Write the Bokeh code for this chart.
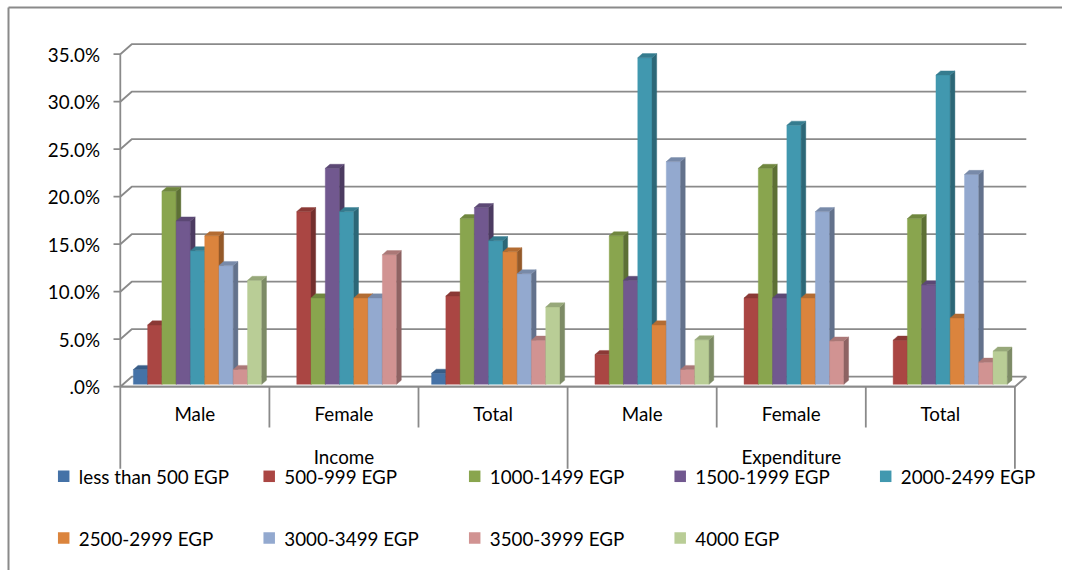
from bokeh.plotting import figure
from bokeh.models import ColumnDataSource, Range1d
from bokeh.embed import file_html
from bokeh.resources import INLINE
from bokeh.core.properties import value

# ---------------- data ----------------
groups = ["Income", "Expenditure"]
categories = ["Male", "Female", "Total", "Male", "Female", "Total"]
series = ["less than 500 EGP", "500-999 EGP", "1000-1499 EGP", "1500-1999 EGP",
          "2000-2499 EGP", "2500-2999 EGP", "3000-3499 EGP", "3500-3999 EGP", "4000 EGP"]
colors = ["#4572A7", "#AA4643", "#89A54E", "#71588F", "#4198AF",
          "#DB843D", "#93A9CF", "#D19392", "#B9CD96"]

# percent values for Income (Male, Female, Total) then Expenditure (Male, Female, Total)
less_500 = [1.56, 0.0, 1.16, 0.0, 0.0, 0.0]
egp_500_999 = [6.25, 18.18, 9.30, 3.13, 9.09, 4.65]
egp_1000_1499 = [20.31, 9.09, 17.44, 15.63, 22.73, 17.44]
egp_1500_1999 = [17.19, 22.73, 18.60, 10.94, 9.09, 10.47]
egp_2000_2499 = [14.06, 18.18, 15.12, 34.38, 27.27, 32.56]
egp_2500_2999 = [15.63, 9.09, 13.95, 6.25, 9.09, 6.98]
egp_3000_3499 = [12.50, 9.09, 11.63, 23.44, 18.18, 22.09]
egp_3500_3999 = [1.56, 13.64, 4.65, 1.56, 4.55, 2.33]
egp_4000 = [10.94, 0.0, 8.14, 4.69, 0.0, 3.49]
values = [less_500, egp_500_999, egp_1000_1499, egp_1500_1999, egp_2000_2499,
          egp_2500_2999, egp_3000_3499, egp_3500_3999, egp_4000]

y_ticks = [0, 5, 10, 15, 20, 25, 30, 35]
y_tick_labels = [".0%", "5.0%", "10.0%", "15.0%", "20.0%", "25.0%", "30.0%", "35.0%"]

# ---------------- layout ----------------
W, H = 1062, 570
X0_PX, UNIT_PX = 119.8, 149.1      # x of category origin, px per category
Y0_PX, PCT_PX = 386.2, 9.5         # y of 0 %, px per percent
FONT = value("Lato")
FS = "18.8px"
GRID = "#8a8a8a"


def cx(px):
    return (px - X0_PX) / UNIT_PX


def cy(py):
    return (Y0_PX - py) / PCT_PX


DX, DY = 11.4 / UNIT_PX, 10.0 / PCT_PX     # full depth of the 3D box
BW = 14.27 / UNIT_PX                        # bar width
F0, F1 = 0.24, 0.65                         # bar depth span
OFF = (1 - len(series) * BW) / 2
NCAT = len(categories)


def shade(hexcol, f):
    r, g, b = int(hexcol[1:3], 16), int(hexcol[3:5], 16), int(hexcol[5:7], 16)
    return "#%02x%02x%02x" % (int(r * f), int(g * f), int(b * f))


p = figure(width=W, height=H, x_range=Range1d(cx(0), cx(W)), y_range=Range1d(cy(H), cy(0)),
           output_backend="svg", toolbar_location=None, min_border=0,
           x_axis_location=None, y_axis_location=None)
p.grid.visible = False
p.outline_line_color = None
p.background_fill_color = "white"
p.border_fill_color = "white"

# chart border (top and left edges visible)
p.segment(x0=[cx(8), cx(8)], y0=[cy(7), cy(7)], x1=[cx(W), cx(8)], y1=[cy(7), cy(H)],
          line_color=GRID, line_width=2)

# floor
p.patch(x=[0, NCAT, NCAT + DX, DX], y=[0, 0, DY, DY], fill_color="white",
        line_color=GRID, line_width=1.8)

# back wall gridlines with left-wall diagonals
gx, gy = [], []
for t in y_ticks[1:]:
    gx.append([0, DX, NCAT + DX])
    gy.append([t, t + DY, t + DY])
p.multi_line(xs=gx, ys=gy, line_color=GRID, line_width=1.8)

# value axis
p.segment(x0=[0], y0=[0], x1=[0], y1=[y_ticks[-1]], line_color=GRID, line_width=1.8)
p.segment(x0=[cx(113)] * len(y_ticks), y0=y_ticks, x1=[0] * len(y_ticks), y1=y_ticks,
          line_color=GRID, line_width=1.8)
p.text(x=[cx(99.5)] * len(y_ticks), y=y_ticks, text=y_tick_labels, text_font=FONT,
       text_font_size=FS, text_align="right", text_baseline="middle", text_color="black")

# bars (front, side, top faces), drawn left to right
xs, ys, fills = [], [], []
for g in range(NCAT):
    for s in range(len(series)):
        v = values[s][g]
        if v <= 0:
            continue
        x0 = g + OFF + s * BW + F0 * DX
        x1 = x0 + BW
        yb, yt = F0 * DY, v + F0 * DY
        ddx, ddy = (F1 - F0) * DX, (F1 - F0) * DY
        xs.append([x0, x1, x1, x0]); ys.append([yb, yb, yt, yt]); fills.append(colors[s])
        xs.append([x1, x1 + ddx, x1 + ddx, x1]); ys.append([yb, yb + ddy, yt + ddy, yt])
        fills.append(shade(colors[s], 0.68))
        xs.append([x0, x1, x1 + ddx, x0 + ddx]); ys.append([yt, yt, yt + ddy, yt + ddy])
        fills.append(shade(colors[s], 0.82))
bars = ColumnDataSource(dict(xs=xs, ys=ys, fill=fills))
p.patches(xs="xs", ys="ys", fill_color="fill", line_color="fill", line_width=0.4, source=bars)

# category axis
cat_ticks = list(range(NCAT + 1))
tick_ends = [cy(468.3) if (i % 3 == 0) else cy(427) for i in cat_ticks]
p.segment(x0=cat_ticks, y0=[0] * len(cat_ticks), x1=cat_ticks, y1=tick_ends,
          line_color=GRID, line_width=1.8)
p.segment(x0=[0], y0=[0], x1=[NCAT], y1=[0], line_color=GRID, line_width=1.8)
p.text(x=[i + 0.5 for i in range(NCAT)], y=[cy(413.3)] * NCAT, text=categories,
       text_font=FONT, text_font_size=FS, text_align="center", text_baseline="middle",
       text_color="black")
p.text(x=[1.5, 4.5], y=[cy(455.5)] * 2, text=groups, text_font=FONT, text_font_size=FS,
       text_align="center", text_baseline="middle", text_color="black")

# legend
NCOL = 5
lx = [cx(63.2 + (i % NCOL) * 205.5) for i in range(len(series))]
ly = [cy(475.8 + (i // NCOL) * 61.7) for i in range(len(series))]
p.scatter(x=lx, y=ly, marker="square", size=11.5, fill_color=colors, line_color=None)
tx = [cx(78.3 + (i % NCOL) * 205.5) for i in range(len(series))]
p.text(x=tx, y=ly, text=series, text_font=FONT, text_font_size=FS, text_align="left",
       text_baseline="middle", text_color="black")

open("out.html", "w").write(file_html(p, INLINE))
